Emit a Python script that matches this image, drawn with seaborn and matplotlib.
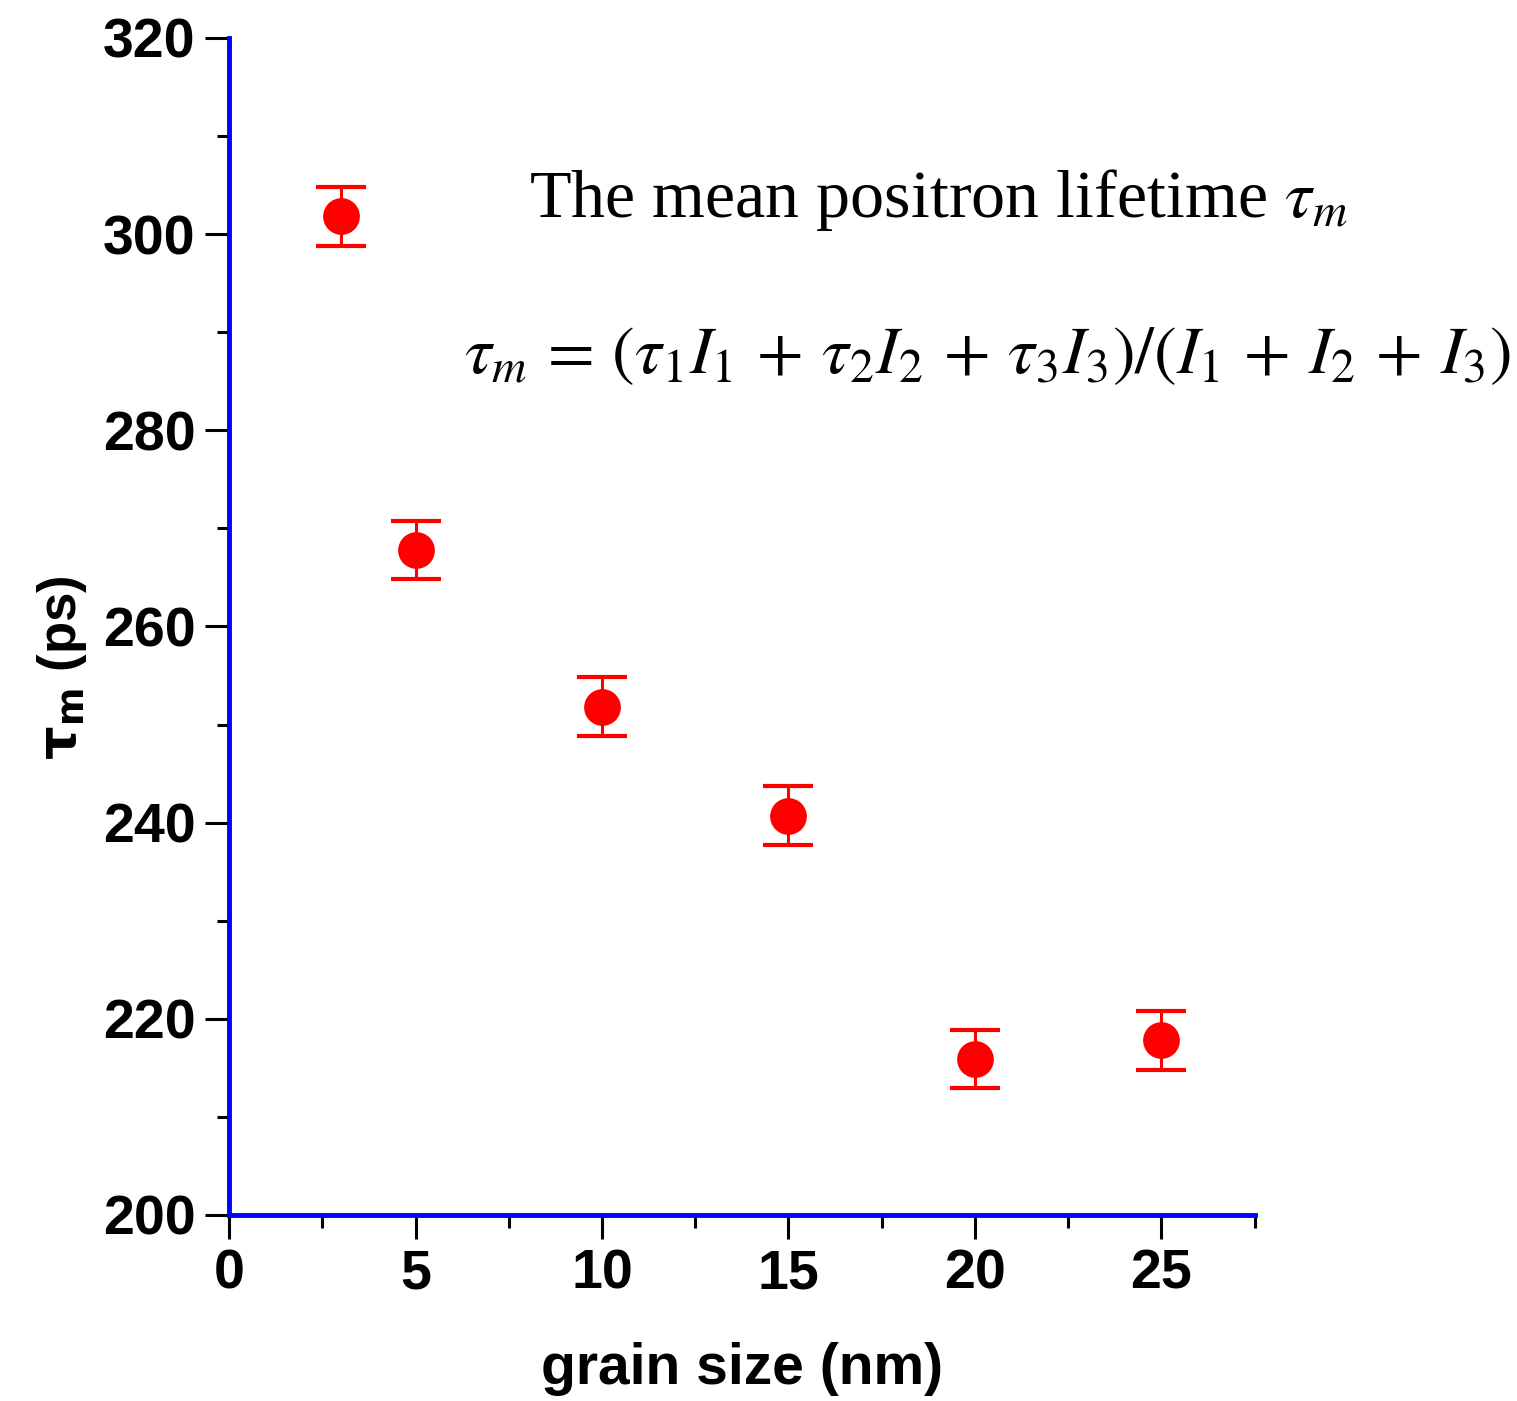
import matplotlib
matplotlib.use("Agg")
import matplotlib.pyplot as plt
import seaborn as sns
import pandas as pd
from matplotlib.ticker import MultipleLocator

grain_size = [3, 5, 10, 15, 20, 25]
tau_m = [301.8, 267.8, 251.8, 240.7, 215.9, 217.8]
tau_err = [3.0, 3.0, 3.0, 3.0, 3.0, 3.0]

df = pd.DataFrame({"grain": grain_size, "tau": tau_m, "err": tau_err})

sns.set_style("ticks")
plt.rcParams['font.family'] = ['Liberation Sans', 'DejaVu Sans']
plt.rcParams['mathtext.fontset'] = 'stix'
plt.rcParams['text.color'] = 'black'
plt.rcParams['axes.labelcolor'] = 'black'
plt.rcParams['xtick.color'] = 'black'
plt.rcParams['ytick.color'] = 'black'

fig = plt.figure(figsize=(15.17, 14.01), dpi=100)
ax = fig.add_axes([0.151, 0.1328, 0.676, 0.8401])

ax.errorbar(df["grain"], df["tau"], yerr=df["err"], fmt='none', ecolor='red',
            elinewidth=2.2, capsize=18, capthick=3, zorder=3)
sns.scatterplot(data=df, x="grain", y="tau", ax=ax, color='red', s=700,
                edgecolor='red', linewidth=0, zorder=4, legend=False)

ax.set_xlim(0, 27.5)
ax.set_ylim(200, 320)
ax.xaxis.set_major_locator(MultipleLocator(5))
ax.xaxis.set_minor_locator(MultipleLocator(2.5))
ax.yaxis.set_major_locator(MultipleLocator(20))
ax.yaxis.set_minor_locator(MultipleLocator(10))

for side in ['top', 'right']:
    ax.spines[side].set_visible(False)
for side in ['left', 'bottom']:
    ax.spines[side].set_color('blue')
    ax.spines[side].set_linewidth(3.5)

ax.tick_params(which='major', direction='out', length=17, width=2.2, color='black',
               labelsize=40, pad=7)
ax.tick_params(which='minor', direction='out', length=9, width=2.2, color='black')
for lab in ax.get_xticklabels() + ax.get_yticklabels():
    lab.set_fontweight('bold')

ax.set_xlabel("grain size (nm)", fontsize=41, fontweight='bold', labelpad=30)
ax.set_ylabel(r"$\mathbf{\tau_m}$ (ps)", fontsize=38, fontweight='bold',
              math_fontfamily='dejavusans')
ax.yaxis.set_label_coords(-0.137, 0.465)

ax.text(8.05, 303.5, r"The mean positron lifetime $\tau_m$", fontsize=49,
        family=['Liberation Serif', 'DejaVu Serif'], va='center', ha='left', clip_on=False,
        math_fontfamily='stix')
ax.text(6.3, 287.7,
        r"$\tau_m\,=\,(\tau_1 I_1\,+\,\tau_2 I_2\,+\,\tau_3 I_3)/(I_1\,+\,I_2\,+\,I_3)$",
        fontsize=49, va='center', ha='left', clip_on=False, math_fontfamily='stix')

fig.savefig("out.png", dpi=100)
